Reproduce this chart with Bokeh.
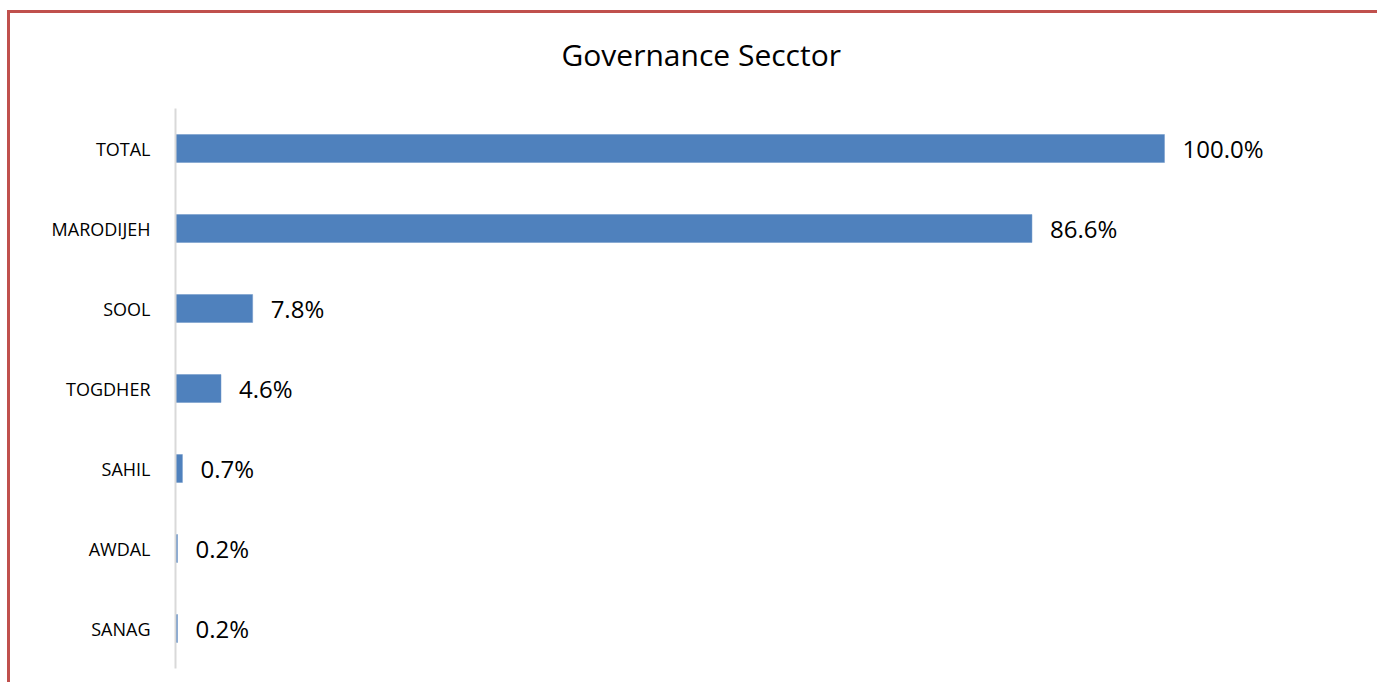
from bokeh.plotting import figure
from bokeh.models import ColumnDataSource, LabelSet, Range1d, FactorRange, Title
from bokeh.core.properties import value
from bokeh.embed import file_html
from bokeh.resources import INLINE

categories = ["TOTAL", "MARODIJEH", "SOOL", "TOGDHER", "SAHIL", "AWDAL", "SANAG"]
values = [100.0, 86.6, 7.8, 4.6, 0.7, 0.2, 0.2]
labels = [f"{v:.1f}%" for v in values]
title_text = "Governance Secctor"

src = ColumnDataSource(dict(cat=categories, val=values, lab=labels))

p = figure(
    width=1370, height=672,
    y_range=FactorRange(*reversed(categories)),
    x_range=Range1d(0, 118),
    output_backend="svg", toolbar_location=None,
    min_border_left=165, min_border_right=38,
    min_border_top=95, min_border_bottom=17,
)
p.styles = {"border-left": "3px solid #C0504D", "border-top": "3px solid #C0504D",
            "margin-top": "10px", "margin-left": "7px"}

p.hbar(y="cat", right="val", left=0, height=0.35, source=src,
       fill_color="#4F81BD", line_color="#6E96C8", line_width=0.5)

p.add_layout(LabelSet(x="val", y="cat", text="lab", source=src, x_offset=18,
                      text_baseline="middle", text_font_size=value("24px"),
                      text_font=value("Open Sans"), text_color="#000000"))

p.title = Title(text=title_text, align="left", offset=386, standoff=40,
                vertical_align="top",
                text_font="Open Sans", text_font_size="30px",
                text_font_style="normal", text_color="#000000")
# invisible spacer between the title and the plot area
p.add_layout(Title(text=" ", standoff=8, text_font_size="2px"), "above")

p.xaxis.visible = False
p.xgrid.visible = False
p.ygrid.visible = False
p.outline_line_color = None

ax = p.yaxis[0]
ax.axis_line_color = "#D9D9D9"
ax.axis_line_width = 2
ax.major_tick_line_color = None
ax.minor_tick_line_color = None
ax.major_tick_out = 0
ax.major_tick_in = 0
ax.major_label_standoff = 25
ax.major_label_text_font = "Open Sans"
ax.major_label_text_font_size = "18px"
ax.major_label_text_color = "#000000"

open("out.html", "w").write(file_html(p, INLINE))
